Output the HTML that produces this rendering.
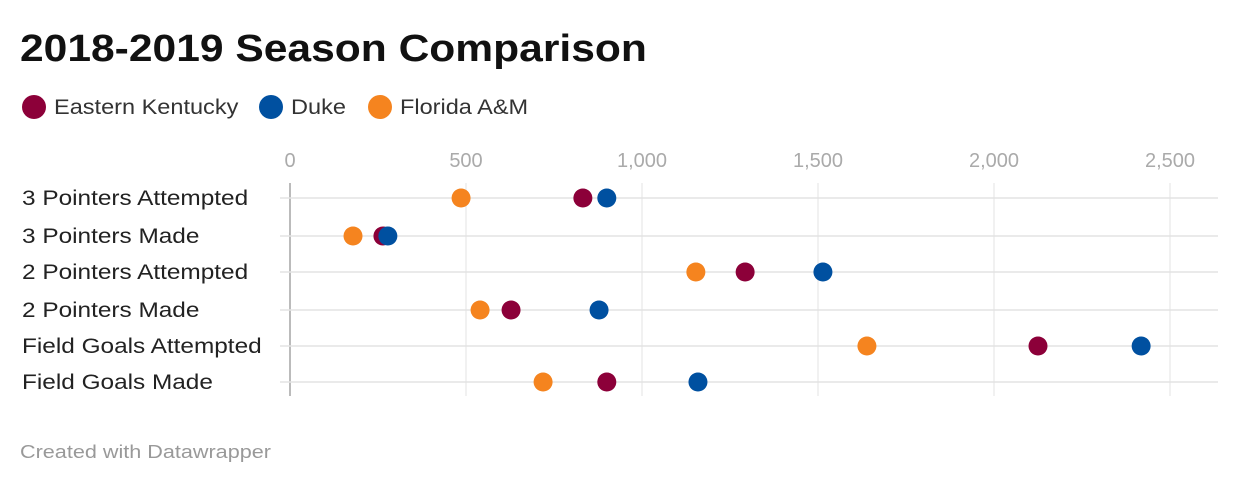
<!DOCTYPE html>
<html><head><meta charset="utf-8"><style>
body{margin:0;background:#fff;width:1240px;height:484px;overflow:hidden;font-family:"Liberation Sans",sans-serif}
</style></head><body>
<svg width="1240" height="484" id="c">
<text class="st" data-r="1.12" x="20" y="61" font-size="38" font-weight="bold" fill="#111">2018-2019 Season Comparison</text>
<g>
<circle cx="34" cy="107" r="12" fill="#8c0039"/>
<text class="st" data-r="1.12" x="54" y="114" font-size="21" fill="#333">Eastern Kentucky</text>
<circle cx="271" cy="107" r="12" fill="#0050a0"/>
<text class="st" data-r="1.12" x="291" y="114" font-size="21" fill="#333">Duke</text>
<circle cx="380" cy="107" r="12" fill="#f5841f"/>
<text class="st" data-r="1.12" x="400" y="114" font-size="21" fill="#333">Florida A&amp;M</text>
</g>
<g id="plot"></g>
<text class="st" data-r="1.2" x="20" y="458" font-size="18" fill="#999">Created with Datawrapper</text>
</svg>
<script>
const categories=["3 Pointers Attempted","3 Pointers Made","2 Pointers Attempted","2 Pointers Made","Field Goals Attempted","Field Goals Made"];
const easternKentucky=[832,264,1293,628,2125,900];
const duke=[900,278,1514,878,2418,1159];
const floridaAM=[486,179,1153,540,1639,719];
const ticks=[0,500,1000,1500,2000,2500];
const tickLabels=["0","500","1,000","1,500","2,000","2,500"];
const NS="http://www.w3.org/2000/svg",g=document.getElementById('plot');
const x=v=>290+v*0.352;
const rowY=[198,236,272,310,346,382];
const y=i=>rowY[i];
function mk(t,a){const e=document.createElementNS(NS,t);for(const k in a)e.setAttribute(k,a[k]);g.appendChild(e);return e;}
ticks.forEach((t,i)=>{
 const l=mk('line',{x1:x(t),x2:x(t),y1:183,y2:396,stroke:t===0?'#bbb':'#e3e3e3','stroke-width':t===0?2:1});
 
 
 const tx=mk('text',{x:x(t),y:167,'font-size':20,fill:'#aaa','text-anchor':'middle'});
 tx.textContent=tickLabels[i];
 
 
});
categories.forEach((c,i)=>{
 const l=mk('line',{x1:280,x2:1218,y1:y(i),y2:y(i),stroke:'#e3e3e3','stroke-width':1.5});
 
 
 const t=mk('text',{x:22,y:y(i)+7,'font-size':21,fill:'#222','class':'st','data-r':1.16});
 t.textContent=c;
 
 
});
[[floridaAM,'#f5841f','dot-florida-am'],[easternKentucky,'#8c0039','dot-eastern-kentucky'],[duke,'#0050a0','dot-duke']].forEach(([arr,col,nm])=>{
 arr.forEach((v,i)=>{
  const d=mk('circle',{cx:x(v),cy:y(i),r:9.5,fill:col});
  
  
 });
});
document.querySelectorAll('.st').forEach(t=>{
 const w=t.getComputedTextLength()*parseFloat(t.getAttribute('data-r'));
 t.setAttribute('textLength',w);
 t.setAttribute('lengthAdjust','spacingAndGlyphs');
});
</script>
</body></html>
